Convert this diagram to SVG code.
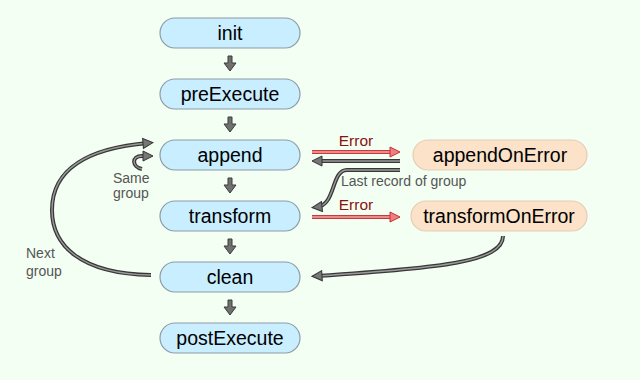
<svg xmlns="http://www.w3.org/2000/svg" width="640" height="380" viewBox="0 0 640 380">
<defs>
<style>
.bg{fill:#f4fff4}
.blue rect{fill:#c8eeff;stroke:#8c9ca4;stroke-width:1.2}
.orange rect{fill:#fbe2c8;stroke:#e4cdb4;stroke-width:1.2}
.lbl{font-family:"Liberation Sans",Arial,sans-serif;font-size:19.5px;fill:#000;text-anchor:middle}
.err{font-family:"Liberation Sans",Arial,sans-serif;font-size:15.5px;fill:#8b1010;text-anchor:middle}
.note{font-family:"Liberation Sans",Arial,sans-serif;font-size:14px;fill:#555}
.go{fill:none;stroke:#383838;stroke-width:4}
.gi{fill:none;stroke:#9a9a9a;stroke-width:1.4}
.ro{fill:none;stroke:#c83a3a;stroke-width:4}
.ri{fill:none;stroke:#f6a8a8;stroke-width:1.6}
.gm{fill:none;stroke:none;marker-end:url(#ahg)}
.rm{fill:none;stroke:none;marker-end:url(#ahr)}
.down{fill:#707070;stroke:#3a3a3a;stroke-width:1}
</style>
<marker id="ahg" markerUnits="userSpaceOnUse" markerWidth="12" markerHeight="12" refX="6" refY="6" orient="auto"><path d="M1,1 L11,6 L1,11 Z" fill="#777" stroke="#333" stroke-width="1"/></marker>
<marker id="ahr" markerUnits="userSpaceOnUse" markerWidth="12" markerHeight="12" refX="6" refY="6" orient="auto"><path d="M1,1 L11,6 L1,11 Z" fill="#f08080" stroke="#c03030" stroke-width="1"/></marker>
</defs>
<rect class="bg" x="0" y="0" width="640" height="380"/>

<g id="connectors">
  <polygon class="down" points="228,56 232,56 232,63 236,63 230,71 224,63 228,63"/>
  <polygon class="down" points="228,117 232,117 232,124 236,124 230,132 224,124 228,124"/>
  <polygon class="down" points="228,178 232,178 232,185 236,185 230,193 224,185 228,185"/>
  <polygon class="down" points="228,239 232,239 232,246 236,246 230,254 224,246 228,246"/>
  <polygon class="down" points="228,300 232,300 232,307 236,307 230,315 224,307 228,307"/>

  <g id="e-append-error">
    <path class="ro" d="M312,152 L395,152"/><path class="ri" d="M312,152 L395,152"/><path class="rm" d="M312,152 L395,152"/>
  </g>
  <g id="e-error-append">
    <path class="go" d="M400,161 L317,161"/><path class="gi" d="M400,161 L317,161"/><path class="gm" d="M400,161 L317,161"/>
  </g>
  <g id="e-last-record">
    <path class="go" d="M400,170 L347,170 C331,170 336,205 317,207"/><path class="gi" d="M400,170 L347,170 C331,170 336,205 317,207"/><path class="gm" d="M400,170 L347,170 C331,170 336,205 317,207"/>
  </g>
  <g id="e-transform-error">
    <path class="ro" d="M312,217 L395,217"/><path class="ri" d="M312,217 L395,217"/><path class="rm" d="M312,217 L395,217"/>
  </g>
  <g id="e-terror-clean">
    <path class="go" d="M503,236 C503,262 440,268 317,276"/><path class="gi" d="M503,236 C503,262 440,268 317,276"/><path class="gm" d="M503,236 C503,262 440,268 317,276"/>
  </g>
  <g id="e-next-group">
    <path class="go" d="M151,275 C80,274 52,245 52,210 C52,168 90,148 148,143"/><path class="gi" d="M151,275 C80,274 52,245 52,210 C52,168 90,148 148,143"/><path class="gm" d="M151,275 C80,274 52,245 52,210 C52,168 90,148 148,143"/>
  </g>
  <g id="e-same-group">
    <path class="go" d="M142,169 C132,167 131,156 142,156 L148,156"/><path class="gi" d="M142,169 C132,167 131,156 142,156 L148,156"/><path class="gm" d="M142,169 C132,167 131,156 142,156 L148,156"/>
  </g>

  <text class="err" x="356" y="146">Error</text>
  <text class="err" x="356" y="210">Error</text>
  <text class="note" x="341" y="186">Last record of group</text>
  <text class="note" x="113" y="183">Same</text>
  <text class="note" x="113" y="198">group</text>
  <text class="note" x="26" y="258">Next</text>
  <text class="note" x="26" y="276">group</text>
</g>

<g id="init" class="blue"><rect x="160" y="18" width="140" height="30" rx="15"/><text class="lbl" x="230" y="40">init</text></g>
<g id="preExecute" class="blue"><rect x="160" y="79" width="140" height="30" rx="15"/><text class="lbl" x="230" y="101">preExecute</text></g>
<g id="append" class="blue"><rect x="160" y="140" width="140" height="30" rx="15"/><text class="lbl" x="230" y="162">append</text></g>
<g id="transform" class="blue"><rect x="160" y="201" width="140" height="30" rx="15"/><text class="lbl" x="230" y="223">transform</text></g>
<g id="clean" class="blue"><rect x="160" y="262" width="140" height="30" rx="15"/><text class="lbl" x="230" y="284">clean</text></g>
<g id="postExecute" class="blue"><rect x="160" y="323" width="140" height="30" rx="15"/><text class="lbl" x="230" y="345">postExecute</text></g>
<g id="appendOnError" class="orange"><rect x="413" y="140" width="174" height="30" rx="15"/><text class="lbl" x="500" y="162">appendOnError</text></g>
<g id="transformOnError" class="orange"><rect x="411" y="201" width="176" height="30" rx="15"/><text class="lbl" x="499" y="223">transformOnError</text></g>
</svg>
